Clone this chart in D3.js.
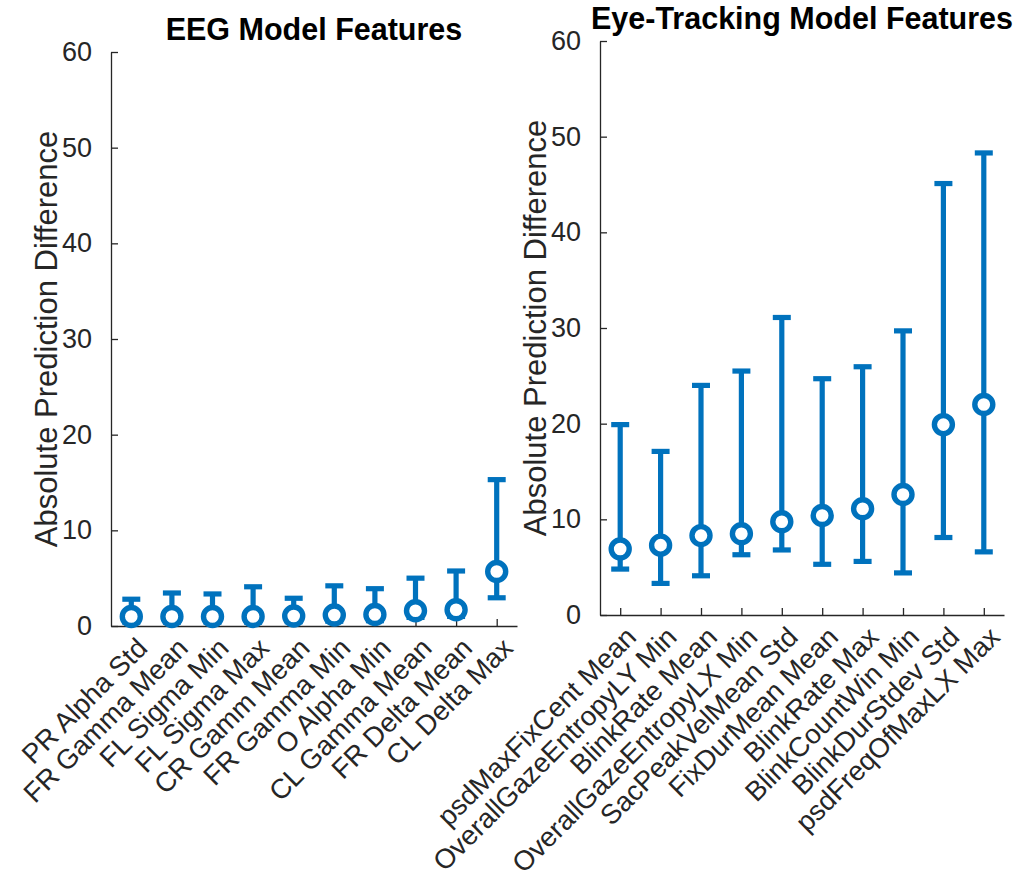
<!DOCTYPE html>
<html>
<head>
<meta charset="utf-8">
<script src="https://cdn.jsdelivr.net/npm/d3@7"></script>
<style>
  html, body { margin: 0; padding: 0; background: #fff; }
  svg { display: block; font-family: "Liberation Sans", Arial, Helvetica, sans-serif; }
</style>
</head>
<body>
<svg id="chart" width="1024" height="883"></svg>
<script>
// EEG model: per-feature mean absolute prediction difference with lower/upper bounds
const eegFeatures = ["PR Alpha Std", "FR Gamma Mean", "FL Sigma Min", "FL Sigma Max", "CR Gamm Mean",
                     "FR Gamma Min", "O Alpha Min", "CL Gamma Mean", "FR Delta Mean", "CL Delta Max"];
const eegMean  = [1.0, 1.0, 1.0, 1.0, 1.05, 1.15, 1.2, 1.6, 1.7, 5.7];
const eegLower = [0.4, 0.4, 0.4, 0.4, 0.45, 0.5, 0.55, 0.9, 1.0, 2.95];
const eegUpper = [2.8, 3.45, 3.35, 4.1, 2.9, 4.2, 3.9, 5.0, 5.75, 15.3];

// Eye-tracking model
const eyeFeatures = ["psdMaxFixCent Mean", "OverallGazeEntropyLY Min", "BlinkRate Mean",
                     "OverallGazeEntropyLX Min", "SacPeakVelMean Std", "FixDurMean Mean",
                     "BlinkRate Max", "BlinkCountWin Min", "BlinkDurStdev Std", "psdFreqOfMaxLX Max"];
const eyeMean  = [6.9, 7.3, 8.3, 8.5, 9.75, 10.4, 11.1, 12.6, 19.9, 22.0];
const eyeLower = [4.8, 3.3, 4.1, 6.3, 6.8, 5.3, 5.6, 4.4, 8.1, 6.6];
const eyeUpper = [19.9, 17.1, 24.0, 25.5, 31.1, 24.7, 25.95, 29.7, 45.1, 48.3];

const yTicks = [0, 10, 20, 30, 40, 50, 60];
const yLabel = "Absolute Prediction Difference";
const titles = ["EEG Model Features", "Eye-Tracking Model Features"];

const BLUE = "#0072BD";
const AXIS = "#262626";
const svg = d3.select("#chart");

function drawPanel(cfg) {
  const { left, right, top, bottom, names, mean, lower, upper, title, labelX, titleY } = cfg;
  const idx = d3.range(1, names.length + 1);
  const x = d3.scaleLinear().domain([0.5, names.length + 0.5]).range([left, right]);
  const y = d3.scaleLinear().domain([0, 60]).range([bottom, top]);
  const g = svg.append("g");

  // y axis (ticks point inward)
  const yAxis = g.append("g").attr("transform", `translate(${left},0)`)
    .call(d3.axisLeft(y).tickValues(yTicks).tickSizeInner(-7).tickSizeOuter(0).tickPadding(19));
  yAxis.select(".domain").attr("stroke", AXIS).attr("stroke-width", 1.3);
  yAxis.selectAll(".tick line").attr("stroke", AXIS).attr("stroke-width", 1.3);
  yAxis.selectAll(".tick text").attr("fill", AXIS).attr("font-size", 27)
    .attr("font-family", "'Liberation Sans', Arial, sans-serif");

  // x axis
  const xAxis = g.append("g").attr("transform", `translate(0,${bottom})`)
    .call(d3.axisBottom(x).tickValues(idx).tickSizeInner(-7).tickSizeOuter(0).tickFormat(""));
  xAxis.select(".domain").attr("stroke", AXIS).attr("stroke-width", 1.3);
  xAxis.selectAll(".tick line").attr("stroke", AXIS).attr("stroke-width", 1.3);

  // rotated category labels
  g.append("g").selectAll("text").data(names).join("text")
    .attr("transform", (d, i) => `translate(${x(i + 1) + 11},${bottom + 17}) rotate(-45)`)
    .attr("text-anchor", "end")
    .attr("dominant-baseline", "central")
    .attr("font-size", 27.5)
    .attr("fill", AXIS)
    .text(d => d);

  // error bars
  const capHalf = 9;
  const bars = g.append("g").attr("stroke", BLUE).attr("stroke-width", 5.2).attr("fill", "none");
  bars.selectAll("line.v").data(idx).join("line").attr("class", "v")
    .attr("x1", d => x(d)).attr("x2", d => x(d))
    .attr("y1", d => y(lower[d - 1])).attr("y2", d => y(upper[d - 1]));
  bars.selectAll("line.capTop").data(idx).join("line").attr("class", "capTop")
    .attr("x1", d => x(d) - capHalf).attr("x2", d => x(d) + capHalf)
    .attr("y1", d => y(upper[d - 1])).attr("y2", d => y(upper[d - 1]));
  bars.selectAll("line.capBot").data(idx).join("line").attr("class", "capBot")
    .attr("x1", d => x(d) - capHalf).attr("x2", d => x(d) + capHalf)
    .attr("y1", d => y(lower[d - 1])).attr("y2", d => y(lower[d - 1]));

  // mean markers
  g.append("g").selectAll("circle").data(idx).join("circle")
    .attr("cx", d => x(d)).attr("cy", d => y(mean[d - 1]))
    .attr("r", 9)
    .attr("fill", "#fff")
    .attr("stroke", BLUE)
    .attr("stroke-width", 5.4);

  // y-axis title
  g.append("text")
    .attr("transform", `translate(${labelX},${(top + bottom) / 2}) rotate(-90)`)
    .attr("text-anchor", "middle")
    .attr("font-size", 31)
    .attr("fill", AXIS)
    .text(yLabel);

  // panel title
  g.append("text")
    .attr("x", (left + right) / 2)
    .attr("y", titleY)
    .attr("text-anchor", "middle")
    .attr("font-size", 30.5)
    .attr("font-weight", "bold")
    .attr("fill", "#000")
    .text(title);
}

drawPanel({ left: 111, right: 517, top: 52, bottom: 626, names: eegFeatures,
            mean: eegMean, lower: eegLower, upper: eegUpper, title: titles[0],
            labelX: 57, titleY: 40 });
drawPanel({ left: 600, right: 1004, top: 41, bottom: 615, names: eyeFeatures,
            mean: eyeMean, lower: eyeLower, upper: eyeUpper, title: titles[1],
            labelX: 546, titleY: 29 });
</script>
</body>
</html>
